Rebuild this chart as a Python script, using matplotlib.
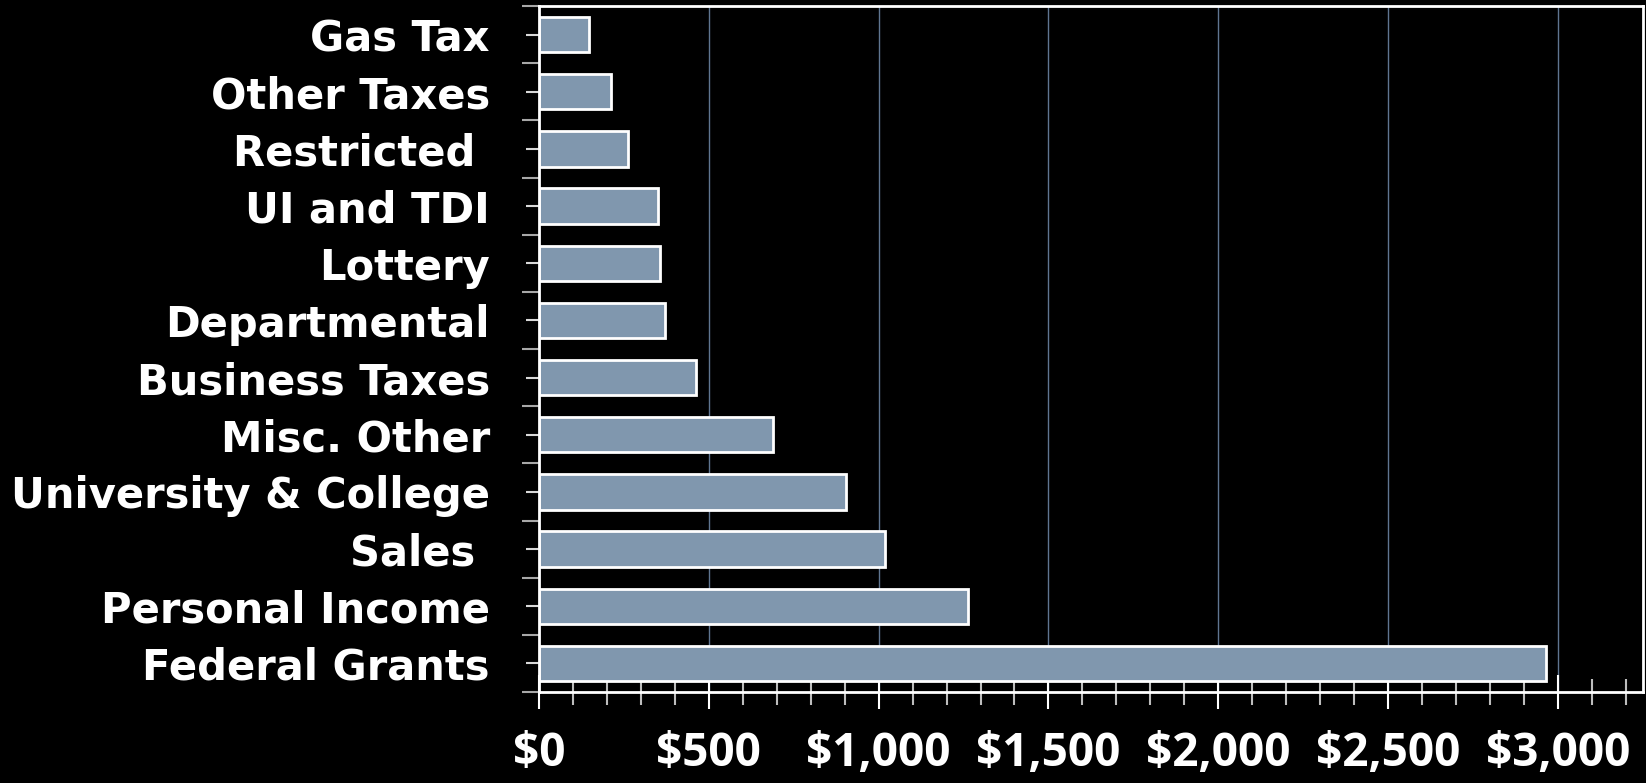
import matplotlib.pyplot as plt
from matplotlib.ticker import MultipleLocator, FixedLocator, FuncFormatter

# revenue sources, bottom to top
categories = ['Federal Grants', 'Personal Income', 'Sales ', 'University & College',
              'Misc. Other', 'Business Taxes', 'Departmental', 'Lottery',
              'UI and TDI', 'Restricted ', 'Other Taxes', 'Gas Tax']
values = [2965, 1263, 1018, 905, 690, 463, 370, 355, 349, 262, 212, 147]
x_ticks = [0, 500, 1000, 1500, 2000, 2500, 3000]

bar_color = '#8097ae'
grid_color = '#5f7590'

fig = plt.figure(figsize=(16.46, 7.83), dpi=100, facecolor='black')
ax = fig.add_axes([0.3275, 0.1162, 0.6705, 0.8761])
ax.set_facecolor('black')

pos = list(range(len(categories)))
ax.barh(pos, values, height=0.62, color=bar_color, edgecolor='white',
        linewidth=2, zorder=3)

ax.set_xlim(0, 3250)
ax.set_ylim(-0.5, len(categories) - 0.5)

ax.xaxis.set_major_locator(FixedLocator(x_ticks))
ax.xaxis.set_minor_locator(MultipleLocator(100))
ax.xaxis.set_major_formatter(FuncFormatter(lambda v, p: '${:,.0f}'.format(v)))
ax.grid(axis='x', which='major', color=grid_color, linewidth=1, zorder=0)

ax.set_yticks(pos)
ax.set_yticklabels(categories)
ax.yaxis.set_minor_locator(FixedLocator([p - 0.5 for p in pos] + [len(pos) - 0.5]))

ax.tick_params(axis='x', which='major', direction='inout', length=24, width=1.5,
               color='white', pad=15, labelcolor='white', labelsize=33)
ax.tick_params(axis='x', which='minor', direction='inout', length=19, width=1.5,
               color='#bdbdbd')
ax.tick_params(axis='y', which='major', direction='inout', length=19, width=1.5,
               color='#d8d8d8', pad=26, labelcolor='white', labelsize=30)
ax.tick_params(axis='y', which='minor', direction='out', length=12, width=1.5,
               color='#a8a8a8')

for lbl in ax.get_xticklabels():
    lbl.set_fontfamily(['Open Sans', 'DejaVu Sans'])
    lbl.set_fontweight('bold')
for lbl in ax.get_yticklabels():
    lbl.set_fontfamily(['DejaVu Sans'])
    lbl.set_fontweight('bold')

for s in ax.spines.values():
    s.set_color('white')
    s.set_linewidth(2)
    s.set_zorder(4)

fig.savefig('out.png', dpi=100, facecolor='black')
